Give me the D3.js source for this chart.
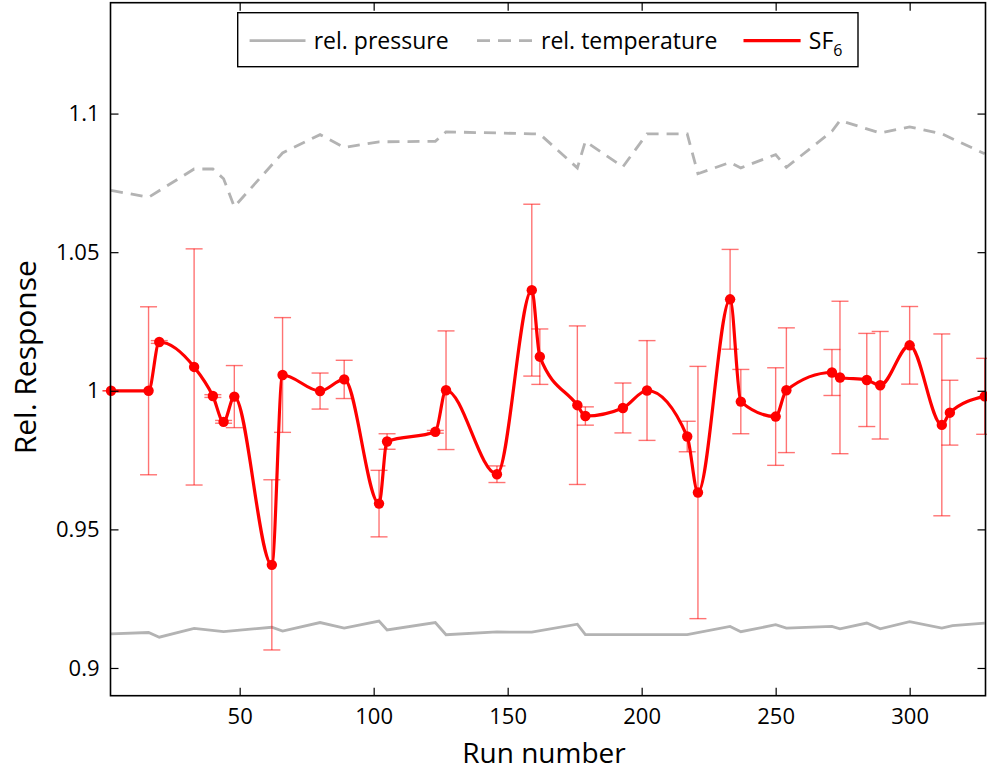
<!DOCTYPE html>
<html>
<head>
<meta charset="utf-8">
<script src="https://cdn.jsdelivr.net/npm/d3@7"></script>
<style>
  html, body { margin: 0; padding: 0; background: #fff; }
  svg { display: block; font-family: "Open Sans", "Noto Sans", sans-serif; }
</style>
</head>
<body>
<svg id="chart" width="987" height="772"></svg>
<script>
// ---- data ----
const sf6Runs = [2, 16, 20, 33, 40, 44, 48, 62, 66, 80, 89, 102, 105, 123, 127, 146, 159, 162, 176, 179, 193, 202, 217, 221, 233, 237, 250, 254, 271, 274, 284, 289, 300, 312, 315, 328];
const sf6Values = [1.0000, 1.0000, 1.0176, 1.0086, 0.9981, 0.9888, 0.9979, 0.9372, 1.0057, 0.9999, 1.0041, 0.9593, 0.9817, 0.9852, 1.0002, 0.9699, 1.0363, 1.0123, 0.9948, 0.9909, 0.9938, 1.0001, 0.9835, 0.9633, 1.0330, 0.9961, 0.9907, 1.0002, 1.0066, 1.0048, 1.0039, 1.0020, 1.0164, 0.9877, 0.9921, 0.9980];
const sf6Errors = [0, 0.0303, 0.0005, 0.0426, 0.0005, 0.0005, 0.0112, 0.0307, 0.0207, 0.0065, 0.0069, 0.0120, 0.0028, 0.0005, 0.0214, 0.0030, 0.0310, 0.0100, 0.0286, 0.0033, 0.0090, 0.0180, 0.0055, 0.0455, 0.0180, 0.0116, 0.0176, 0.0225, 0.0083, 0.0275, 0.0168, 0.0194, 0.0140, 0.0328, 0.0117, 0.0137];

const tempRuns = [2, 16, 33, 40, 44, 48, 66, 80, 89, 102, 123, 127, 146, 159, 162, 176, 179, 193, 202, 217, 221, 233, 237, 250, 254, 271, 274, 289, 300, 312, 328];
const tempValues = [1.0723, 1.0698, 1.0800, 1.0800, 1.0765, 1.0664, 1.0858, 1.0924, 1.0878, 1.0898, 1.0900, 1.0934, 1.0930, 1.0927, 1.0926, 1.0804, 1.0900, 1.0808, 1.0927, 1.0927, 1.0783, 1.0824, 1.0804, 1.0852, 1.0806, 1.0936, 1.0975, 1.0930, 1.0952, 1.0927, 1.0855];

const presRuns = [2, 16, 20, 33, 44, 62, 66, 80, 89, 102, 105, 123, 127, 146, 159, 176, 179, 217, 233, 237, 250, 254, 271, 274, 284, 289, 300, 312, 316, 328];
const presValues = [0.9123, 0.9128, 0.9111, 0.9143, 0.9131, 0.9147, 0.9133, 0.9164, 0.9144, 0.9169, 0.9137, 0.9164, 0.9120, 0.9130, 0.9129, 0.9158, 0.9120, 0.9120, 0.9150, 0.9131, 0.9156, 0.9144, 0.9150, 0.9141, 0.9162, 0.9141, 0.9167, 0.9144, 0.9153, 0.9162];

const xTicks = [50, 100, 150, 200, 250, 300];
const yTicks = [0.9, 0.95, 1, 1.05, 1.1];
const yTickLabels = ["0.9", "0.95", "1", "1.05", "1.1"];
const legendLabels = ["rel. pressure", "rel. temperature", "SF"];

// ---- layout ----
const L = 110.5, R = 985.5, T = 2.7, B = 695.7;
const svg = d3.select("#chart");

const x = d3.scaleLinear().domain([1.8, 328.3]).range([L, R]);
const y = d3.scaleLinear().domain([0.89, 1.14]).range([B, T]);

const gray = "#b3b3b3";

// gray lines
const lineGen = d3.line().x(d => x(d[0])).y(d => y(d[1]));
svg.append("path")
  .datum(presRuns.map((r, i) => [r, presValues[i]]))
  .attr("d", lineGen).attr("fill", "none")
  .attr("stroke", gray).attr("stroke-width", 2.8).attr("stroke-linejoin", "miter");
svg.append("path")
  .datum(tempRuns.map((r, i) => [r, tempValues[i]]))
  .attr("d", lineGen).attr("fill", "none")
  .attr("stroke", gray).attr("stroke-width", 2.8).attr("stroke-dasharray", "12,8");

// error bars
const sf6 = sf6Runs.map((r, i) => ({ r, v: sf6Values[i], e: sf6Errors[i] }));
const eb = svg.append("g").attr("stroke", "#ff0000").attr("stroke-opacity", 0.55).attr("stroke-width", 1.4);
sf6.forEach(d => {
  const cx = x(d.r), y1 = y(d.v + d.e), y2 = y(d.v - d.e);
  eb.append("line").attr("x1", cx).attr("x2", cx).attr("y1", y1).attr("y2", y2);
  eb.append("line").attr("x1", cx - 8.5).attr("x2", cx + 8.5).attr("y1", y1).attr("y2", y1);
  eb.append("line").attr("x1", cx - 8.5).attr("x2", cx + 8.5).attr("y1", y2).attr("y2", y2);
});

// SF6 smooth line
svg.append("path")
  .datum(sf6)
  .attr("d", d3.line().x(d => x(d.r)).y(d => y(d.v)).curve(d3.curveMonotoneX))
  .attr("fill", "none").attr("stroke", "#ff0000").attr("stroke-width", 3.2);

svg.append("g").selectAll("circle").data(sf6).join("circle")
  .attr("cx", d => x(d.r)).attr("cy", d => y(d.v)).attr("r", 5.2)
  .attr("fill", "#ff0000");

// axes (ticks inward)
const tickStyle = g => {
  g.select(".domain").remove();
  g.selectAll(".tick line").attr("stroke", "#000").attr("stroke-width", 1.2);
  g.selectAll(".tick text").attr("fill", "#000").style("font-size", "22px")
    .style("font-family", "'Open Sans', 'Noto Sans', sans-serif");
};
svg.append("g").attr("transform", `translate(0,${B})`)
  .call(d3.axisBottom(x).tickValues(xTicks).tickSizeInner(-8).tickSizeOuter(0).tickPadding(13).tickFormat(d3.format("d")))
  .call(tickStyle);
svg.append("g").attr("transform", `translate(0,${T})`)
  .call(d3.axisTop(x).tickValues(xTicks).tickSizeInner(-8).tickSizeOuter(0).tickFormat(""))
  .call(tickStyle);
svg.append("g").attr("transform", `translate(${L},0)`)
  .call(d3.axisLeft(y).tickValues(yTicks).tickSizeInner(-8).tickSizeOuter(0).tickPadding(11)
    .tickFormat((d, i) => yTickLabels[i]))
  .call(tickStyle);
svg.append("g").attr("transform", `translate(${R},0)`)
  .call(d3.axisRight(y).tickValues(yTicks).tickSizeInner(-8).tickSizeOuter(0).tickFormat(""))
  .call(tickStyle);

svg.append("rect").attr("x", L).attr("y", T).attr("width", R - L).attr("height", B - T)
  .attr("fill", "none").attr("stroke", "#000").attr("stroke-width", 1.6);

// axis labels
svg.append("text").attr("x", (L + R) / 2 - 4).attr("y", 763)
  .attr("text-anchor", "middle").style("font-size", "28px").text("Run number");
svg.append("text").attr("transform", `translate(36,${(T + B) / 2 + 8}) rotate(-90)`)
  .attr("text-anchor", "middle").style("font-size", "30px").text("Rel. Response");

// legend
const lg = svg.append("g");
lg.append("rect").attr("x", 237.7).attr("y", 12.7).attr("width", 620.3).attr("height", 54)
  .attr("fill", "#fff").attr("stroke", "#000").attr("stroke-width", 1.4);
const ly = 40.7, ty = 49;
lg.append("line").attr("x1", 249.6).attr("x2", 305.5).attr("y1", ly).attr("y2", ly)
  .attr("stroke", gray).attr("stroke-width", 2.8);
lg.append("text").attr("x", 313.7).attr("y", ty).style("font-size", "23px").text(legendLabels[0]);
lg.append("line").attr("x1", 477).attr("x2", 534).attr("y1", ly).attr("y2", ly)
  .attr("stroke", gray).attr("stroke-width", 2.8).attr("stroke-dasharray", "13,8");
lg.append("text").attr("x", 541).attr("y", ty).style("font-size", "23px").text(legendLabels[1]);
lg.append("line").attr("x1", 743.5).attr("x2", 800.6).attr("y1", ly).attr("y2", ly)
  .attr("stroke", "#ff0000").attr("stroke-width", 3.2);
const sfText = lg.append("text").attr("x", 808.8).attr("y", ty).style("font-size", "23px");
sfText.append("tspan").text(legendLabels[2]);
sfText.append("tspan").attr("dy", 7).style("font-size", "16px").text("6");
</script>
</body>
</html>
